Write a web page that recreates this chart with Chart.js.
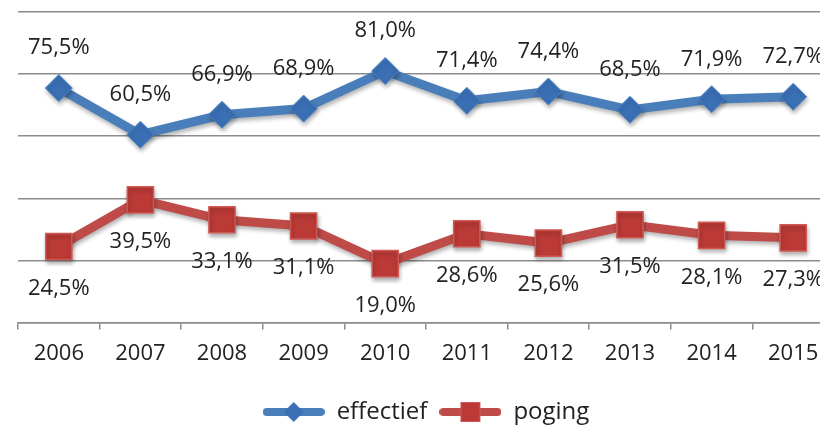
<!DOCTYPE html>
<html>
<head>
<meta charset="utf-8">
<script src="https://cdn.jsdelivr.net/npm/chart.js@4.4.1/dist/chart.umd.min.js"></script>
<style>
html,body{margin:0;padding:0;overflow:hidden;background:#fff;}
#wrap{width:840px;height:429px;position:absolute;left:0;top:0;}
canvas{display:block;}
</style>
</head>
<body>
<div id="wrap"><canvas id="c" width="840" height="429" style="width:840px;height:429px"></canvas></div>
<script>
const years = ['2006','2007','2008','2009','2010','2011','2012','2013','2014','2015'];
const effectief = [75.5, 60.5, 66.9, 68.9, 81.0, 71.4, 74.4, 68.5, 71.9, 72.7];
const poging = [24.5, 39.5, 33.1, 31.1, 19.0, 28.6, 25.6, 31.5, 28.1, 27.3];
const seriesNames = ['effectief', 'poging'];

const FONT = "'Open Sans', 'DejaVu Sans', sans-serif";
const BLUE_LINE = '#4a7ebb', BLUE_PT = '#3a6fb4', BLUE_BORDER = '#4f86c6';
const RED_LINE = '#be4b48', RED_PT = '#bb3a36', RED_BORDER = '#cf5a55';

function legendImg(kind){
  const c = document.createElement('canvas');
  c.width = 62; c.height = 26;
  const x = c.getContext('2d');
  x.lineCap = 'round';
  x.lineWidth = 8;
  x.strokeStyle = kind === 0 ? BLUE_LINE : RED_LINE;
  x.beginPath(); x.moveTo(4,13); x.lineTo(58,13); x.stroke();
  if (kind === 0){
    x.fillStyle = BLUE_PT;
    x.beginPath(); x.moveTo(31,3); x.lineTo(41,13); x.lineTo(31,23); x.lineTo(21,13); x.closePath(); x.fill();
  } else {
    x.fillStyle = RED_PT; x.strokeStyle = RED_BORDER; x.lineWidth = 1;
    x.fillRect(21,3,20,20); x.strokeRect(21.5,3.5,19,19);
  }
  return c;
}
const legendImgs = [legendImg(0), legendImg(1)];

const fmt = v => v.toFixed(1).replace('.', ',') + '%';

const shadowPlugin = {
  id: 'shadow',
  beforeDatasetDraw(chart){ const ctx = chart.ctx; ctx.save(); ctx.shadowColor='rgba(0,0,0,0.3)'; ctx.shadowBlur=4; ctx.shadowOffsetY=3; ctx.shadowOffsetX=1; },
  afterDatasetDraw(chart){ chart.ctx.restore(); }
};

const labelPlugin = {
  id: 'valLabels',
  afterDatasetsDraw(chart){
    const ctx = chart.ctx;
    ctx.save();
    ctx.font = "22px " + FONT;
    ctx.fillStyle = '#222';
    ctx.textAlign = 'center';
    ctx.textBaseline = 'middle';
    chart.data.datasets.forEach((ds, i) => {
      const meta = chart.getDatasetMeta(i);
      meta.data.forEach((pt, j) => {
        const dy = i === 0 ? -40 : 42;
        ctx.fillText(fmt(ds.data[j]), pt.x, pt.y + dy);
      });
    });
    ctx.restore();
  }
};

new Chart(document.getElementById('c'), {
  type: 'line',
  data: {
    labels: years,
    datasets: [
      { label: seriesNames[0], data: effectief, borderColor: BLUE_LINE, borderWidth: 9,
        pointStyle: 'rectRot', pointRadius: 13.5, pointBackgroundColor: BLUE_PT, pointBorderColor: BLUE_BORDER, pointBorderWidth: 1,
        tension: 0, fill: false, clip: false },
      { label: seriesNames[1], data: poging, borderColor: RED_LINE, borderWidth: 9,
        pointStyle: 'rect', pointRadius: 18.5, pointBackgroundColor: RED_PT, pointBorderColor: RED_BORDER, pointBorderWidth: 1.5,
        tension: 0, fill: false, clip: false }
    ]
  },
  options: {
    responsive: false,
    animation: false,
    devicePixelRatio: 1,
    layout: { autoPadding: false, padding: { left: 18, right: 6, top: 12, bottom: -5 } },
    plugins: {
      tooltip: { enabled: false },
      legend: {
        position: 'bottom',
        labels: {
          usePointStyle: true,
          pointStyleWidth: 62,
          padding: 12,
          color: '#222',
          font: { family: FONT, size: 24 },
          generateLabels(chart){
            return chart.data.datasets.map((ds, i) => ({
              text: ds.label, pointStyle: legendImgs[i], fillStyle: 'transparent', strokeStyle: 'transparent',
              lineWidth: 0, hidden: false, datasetIndex: i, fontColor: '#222'
            }));
          }
        }
      }
    },
    scales: {
      x: {
        offset: true,
        afterFit(scale){ scale.height += 10; },
        grid: { offset: true, drawOnChartArea: false, drawTicks: true, tickLength: 7, color: '#8c8c8c', lineWidth: 1.5 },
        border: { display: true, color: '#8c8c8c', width: 1.5 },
        ticks: { color: '#222', font: { family: FONT, size: 22 }, padding: 11, maxRotation: 0, autoSkip: false }
      },
      y: {
        min: 0, max: 100,
        ticks: { display: false, stepSize: 20 },
        grid: { color: '#8c8c8c', lineWidth: 1.5, drawTicks: false },
        border: { display: false }
      }
    }
  },
  plugins: [shadowPlugin, labelPlugin]
});
</script>
</body>
</html>
